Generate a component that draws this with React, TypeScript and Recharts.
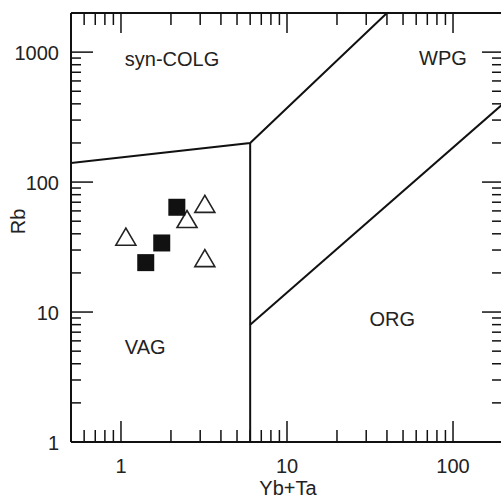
import React from 'react';
import { ScatterChart, Scatter, XAxis, YAxis, ReferenceDot } from 'recharts';

// Sample data (Yb+Ta, Rb)
const squareX = [2.17, 1.76, 1.41];
const squareY = [64, 34, 24];
const triangleX = [1.07, 3.2, 2.5, 3.2];
const triangleY = [38, 68, 52, 26];

// Field boundaries (Pearce et al. 1984)
const boundaryA = [
  { x: 0.5, y: 140 },
  { x: 6, y: 200 },
  { x: 40, y: 2000 },
];
const boundaryB = [
  { x: 6, y: 200 },
  { x: 6, y: 1 },
];
const boundaryC = [
  { x: 6, y: 8 },
  { x: 200, y: 400 },
];

// Field labels
const fieldNames = ['syn-COLG', 'WPG', 'VAG', 'ORG'];
const fieldX = [2.03, 87, 1.4, 43];
const fieldY = [880, 900, 5.4, 8.8];

// Axis ticks
const xMajorTicks = [1, 10, 100];
const xMinorTicks = [0.6, 0.7, 0.8, 0.9, 2, 3, 4, 5, 6, 7, 8, 9, 20, 30, 40, 50, 60, 70, 80, 90];
const yMajorTicks = [1, 10, 100, 1000];
const yMinorTicks = [2, 3, 4, 5, 6, 7, 8, 9, 20, 30, 40, 50, 60, 70, 80, 90, 200, 300, 400, 500, 600, 700, 800, 900];

const xDomain = [0.5, 200];
const yDomain = [1, 2000];

const squares = squareX.map((x, i) => ({ x, y: squareY[i] }));
const triangles = triangleX.map((x, i) => ({ x, y: triangleY[i] }));
const xTicks = [...xMajorTicks, ...xMinorTicks].sort((a, b) => a - b);
const yTicks = [...yMajorTicks, ...yMinorTicks].sort((a, b) => a - b);

const FONT = '"Liberation Sans", Arial, sans-serif';
const TEXT = '#222';

const isMajor = (v: number, majors: number[]) => majors.some((m) => Math.abs(m - v) < 1e-9);

const BottomTick = (p: any) => {
  const major = isMajor(p.payload.value, xMajorTicks);
  return (
    <g>
      <line x1={p.x} x2={p.x} y1={p.y} y2={p.y - (major ? 21 : 12)} stroke="#111" strokeWidth={1.5} />
      {major && (
        <text x={p.x} y={p.y + 31} textAnchor="middle" fontSize={20} fontFamily={FONT} fill={TEXT}>
          {p.payload.value}
        </text>
      )}
    </g>
  );
};

const TopTick = (p: any) => {
  const major = isMajor(p.payload.value, xMajorTicks);
  return <line x1={p.x} x2={p.x} y1={p.y} y2={p.y + (major ? 20 : 12)} stroke="#111" strokeWidth={1.5} />;
};

const LeftTick = (p: any) => {
  const major = isMajor(p.payload.value, yMajorTicks);
  return (
    <g>
      <line x1={p.x} x2={p.x + (major ? 22 : 10)} y1={p.y} y2={p.y} stroke="#111" strokeWidth={1.5} />
      {major && (
        <text x={p.x - 12} y={p.y + 8} textAnchor="end" fontSize={20} fontFamily={FONT} fill={TEXT}>
          {p.payload.value}
        </text>
      )}
    </g>
  );
};

const RightTick = (p: any) => {
  const major = isMajor(p.payload.value, yMajorTicks);
  return <line x1={p.x} x2={p.x - (major ? 21 : 11)} y1={p.y} y2={p.y} stroke="#111" strokeWidth={1.5} />;
};

const SquareShape = (p: any) => (
  <rect x={p.cx - 8.5} y={p.cy - 8.5} width={17} height={17} fill="#111" />
);

const TriangleShape = (p: any) => (
  <polygon
    points={`${p.cx},${p.cy - 8.5} ${p.cx - 10},${p.cy + 8.5} ${p.cx + 10},${p.cy + 8.5}`}
    fill="none"
    stroke="#222"
    strokeWidth={1.6}
  />
);

const NoShape = () => <g />;

const lineStyle = { stroke: '#111', strokeWidth: 2 };

export default function App() {
  return (
    <div
      style={{
        position: 'fixed',
        left: 0,
        top: 0,
        width: 501,
        height: 499,
        overflow: 'hidden',
        background: '#fff',
      }}
    >
      <ScatterChart width={508} height={499} margin={{ top: 0, right: 0, bottom: 0, left: 0 }}>
        <XAxis
          dataKey="x"
          type="number"
          scale="log"
          domain={xDomain}
          allowDataOverflow
          ticks={xTicks}
          interval={0}
          height={57}
          tickSize={0}
          tickMargin={0}
          tickLine={false}
          tick={BottomTick}
          axisLine={{ stroke: '#111', strokeWidth: 2 }}
          label={{
            content: (lp: any) => (
              <text
                x={lp.viewBox.x + lp.viewBox.width / 2 + 1}
                y={lp.viewBox.y + 53}
                textAnchor="middle"
                fontSize={20}
                fontFamily={FONT}
                fill={TEXT}
              >
                Yb+Ta
              </text>
            ),
          }}
        />
        <XAxis
          xAxisId="top"
          orientation="top"
          dataKey="x"
          type="number"
          scale="log"
          domain={xDomain}
          allowDataOverflow
          ticks={xTicks}
          interval={0}
          height={13}
          tickSize={0}
          tickMargin={0}
          tickLine={false}
          tick={TopTick}
          axisLine={{ stroke: '#111', strokeWidth: 2 }}
        />
        <YAxis
          dataKey="y"
          type="number"
          scale="log"
          domain={yDomain}
          allowDataOverflow
          ticks={yTicks}
          interval={0}
          width={71}
          tickSize={0}
          tickMargin={0}
          tickLine={false}
          tick={LeftTick}
          axisLine={{ stroke: '#111', strokeWidth: 2 }}
          label={{
            content: (lp: any) => {
              const cx = lp.viewBox.x + 18;
              const cy = lp.viewBox.y + lp.viewBox.height / 2 - 6;
              return (
                <text
                  x={cx}
                  y={cy}
                  transform={`rotate(-90 ${cx} ${cy})`}
                  textAnchor="middle"
                  dominantBaseline="central"
                  fontSize={20}
                  fontFamily={FONT}
                  fill={TEXT}
                >
                  Rb
                </text>
              );
            },
          }}
        />
        <YAxis
          yAxisId="right"
          orientation="right"
          dataKey="y"
          type="number"
          scale="log"
          domain={yDomain}
          allowDataOverflow
          ticks={yTicks}
          interval={0}
          width={5}
          tickSize={0}
          tickMargin={0}
          tickLine={false}
          tick={RightTick}
          axisLine={{ stroke: '#111', strokeWidth: 2 }}
        />
        <Scatter data={boundaryA} line={lineStyle} lineType="joint" shape={NoShape} isAnimationActive={false} />
        <Scatter data={boundaryB} line={lineStyle} lineType="joint" shape={NoShape} isAnimationActive={false} />
        <Scatter data={boundaryC} line={lineStyle} lineType="joint" shape={NoShape} isAnimationActive={false} />
        <Scatter data={triangles} shape={TriangleShape} isAnimationActive={false} />
        <Scatter data={squares} shape={SquareShape} isAnimationActive={false} />
        {fieldNames.map((name, i) => (
          <ReferenceDot
            key={name}
            x={fieldX[i]}
            y={fieldY[i]}
            r={0}
            stroke="none"
            fill="none"
            label={{ value: name, position: 'center', fontSize: 20, fontFamily: FONT, fill: TEXT }}
          />
        ))}
      </ScatterChart>
    </div>
  );
}
